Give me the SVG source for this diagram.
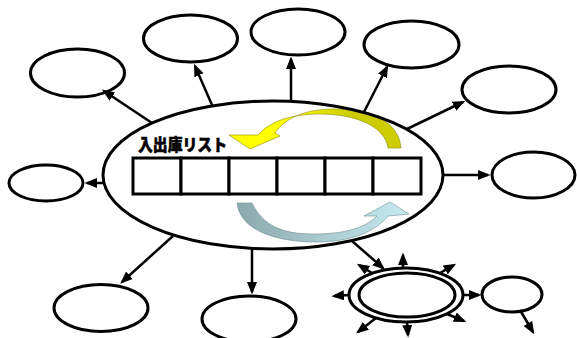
<svg xmlns="http://www.w3.org/2000/svg" width="577" height="338" viewBox="0 0 577 338">
<defs>
<style>
.n{fill:#fff;stroke:#000;stroke-width:3}
.c{stroke:#000;stroke-width:2.5;fill:none;marker-end:url(#ah)}
.cell{fill:#fff;stroke:#000;stroke-width:3}
.lbl{font-family:"Noto Sans CJK JP","Noto Sans",sans-serif;font-weight:900;font-size:16.5px;fill:#000;stroke:#000;stroke-width:0.5}
</style>
<marker id="ah" markerUnits="userSpaceOnUse" markerWidth="14" markerHeight="12" refX="10" refY="5" orient="auto" viewBox="0 0 14 12">
<path d="M0,0 L12.5,5 L0,10 z" fill="#000"/>
</marker>
<linearGradient id="yg" gradientUnits="userSpaceOnUse" x1="290" y1="0" x2="350" y2="0">
<stop offset="0" stop-color="#ffff00"/>
<stop offset="1" stop-color="#cccc00"/>
</linearGradient>
<linearGradient id="bg" gradientUnits="userSpaceOnUse" x1="240" y1="0" x2="400" y2="0">
<stop offset="0" stop-color="#8caaae"/>
<stop offset="1" stop-color="#c4e8ee"/>
</linearGradient>
</defs>

<g id="center">
<ellipse cx="273" cy="175" rx="170" ry="74" fill="#fff"/>
<text class="lbl" x="138" y="150.5" textLength="89" lengthAdjust="spacingAndGlyphs">入出庫リスト</text>
<g id="list">
<rect class="cell" x="133" y="158" width="48" height="36"/>
<rect class="cell" x="181" y="158" width="48" height="36"/>
<rect class="cell" x="229" y="158" width="48" height="36"/>
<rect class="cell" x="277" y="158" width="48" height="36"/>
<rect class="cell" x="325" y="158" width="48" height="36"/>
<rect class="cell" x="373" y="158" width="48" height="36"/>
</g>
<path id="yellow-arrow" d="M401,148 C399,122 372,109 335,109 C305,109 285,118 275,133 L280,136 L250,149 L229,135 L258,135 C270,121 292,114 320,114 C355,114 385,126 388,148 Z" fill="url(#yg)" stroke="#8a8a00" stroke-width="0.6"/>
<path id="blue-arrow" d="M237,203 C240,230 275,242 317,242 C350,242 375,232 388,216 L409,214 L390,202 L364,216 L377,216 C365,228 345,234 313,234 C280,234 262,224 252,203 Z" fill="url(#bg)" stroke="#6f8c90" stroke-width="0.6"/>
<ellipse cx="273" cy="175" rx="170" ry="74" fill="none" stroke="#000" stroke-width="3"/>
</g>

<g id="n1"><ellipse class="n" cx="77.5" cy="73" rx="47" ry="24"/></g>
<g id="n2"><ellipse class="n" cx="190.5" cy="38.5" rx="47" ry="23.5"/></g>
<g id="n3"><ellipse class="n" cx="298" cy="32" rx="47" ry="23"/></g>
<g id="n4"><ellipse class="n" cx="411.5" cy="44.5" rx="47.5" ry="23.5"/></g>
<g id="n5"><ellipse class="n" cx="509" cy="89.5" rx="47" ry="23.5"/></g>
<g id="n6"><ellipse class="n" cx="533.5" cy="175" rx="41.5" ry="23"/></g>
<g id="n7"><ellipse class="n" cx="46" cy="183" rx="37" ry="18"/></g>
<g id="n8"><ellipse class="n" cx="101" cy="308" rx="47" ry="23.5"/></g>
<g id="n9"><ellipse class="n" cx="249" cy="319" rx="47" ry="23"/></g>
<g id="n10">
<ellipse class="n" cx="406" cy="295" rx="57" ry="27"/>
<ellipse class="n" cx="407" cy="295" rx="48" ry="22"/>
</g>
<g id="n11"><ellipse class="n" cx="512" cy="294.5" rx="30" ry="17.5"/></g>

<g id="connectors">
<line class="c" x1="152" y1="123" x2="104" y2="91"/>
<line class="c" x1="212" y1="105" x2="195" y2="66"/>
<line class="c" x1="291" y1="101" x2="291" y2="59"/>
<line class="c" x1="364" y1="112" x2="387" y2="67"/>
<line class="c" x1="407" y1="129" x2="463" y2="102"/>
<line class="c" x1="443" y1="175" x2="488" y2="175"/>
<line class="c" x1="104" y1="183" x2="87" y2="183"/>
<line class="c" x1="173" y1="236" x2="122" y2="282"/>
<line class="c" x1="252" y1="249" x2="252" y2="292"/>
<line class="c" x1="352" y1="241" x2="383" y2="268"/>
<line class="c" x1="463" y1="295" x2="479" y2="295"/>
<line class="c" x1="520" y1="310" x2="533" y2="332"/>
<line class="c" x1="403" y1="268" x2="403" y2="255"/>
<line class="c" x1="372" y1="273" x2="359" y2="265"/>
<line class="c" x1="440" y1="273" x2="454" y2="265"/>
<line class="c" x1="349" y1="295" x2="334" y2="296"/>
<line class="c" x1="376" y1="318" x2="358" y2="332"/>
<line class="c" x1="407" y1="322" x2="408" y2="335"/>
<line class="c" x1="447" y1="314" x2="464" y2="321"/>
</g>
</svg>
